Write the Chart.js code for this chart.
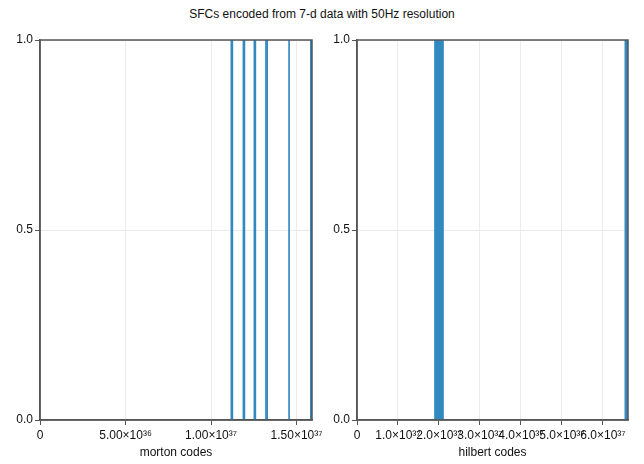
<!DOCTYPE html>
<html><head><meta charset="utf-8">
<script src="https://cdn.jsdelivr.net/npm/chart.js@4/dist/chart.umd.min.js"></script>
<style>
html,body{margin:0;padding:0;background:#fff;width:644px;height:464px;overflow:hidden;}
#title{position:absolute;left:0;top:7px;width:644px;text-align:center;font:12px "Liberation Sans",Arial,sans-serif;color:#111;}
.box{position:absolute;top:0;width:322px;height:464px;}
</style></head><body>
<div id="title">SFCs encoded from 7-d data with 50Hz resolution</div>
<div class="box" style="left:0"><canvas id="c1" width="322" height="464"></canvas></div>
<div class="box" style="left:322px"><canvas id="c2" width="322" height="464"></canvas></div>
<script>
// Data
const mortonWideCodes = [1.1215e37, 1.192e37, 1.256e37, 1.586e37];
const mortonWideCounts = [1, 1, 1, 1];
const mortonThinCodes = [1.321e37, 1.328e37, 1.456e37];
const mortonThinCounts = [1, 1, 1];
const hilbertWideCodes = [2.0e37];
const hilbertWideCounts = [1];
const hilbertNarrowCodes = [6.57e37];
const hilbertNarrowCounts = [1];
const mortonTicks = [0, 5e36, 1e37, 1.5e37];
const mortonTickLabels = ["0", "5.00×10³⁶", "1.00×10³⁷", "1.50×10³⁷"];
const hilbertTicks = [0, 1e37, 2e37, 3e37, 4e37, 5e37, 6e37];
const hilbertTickLabels = ["0", "1.0×10³⁷", "2.0×10³⁷", "3.0×10³⁷", "4.0×10³⁷", "5.0×10³⁷", "6.0×10³⁷"];
const yTicks = [0, 0.5, 1];
const yTickLabels = ["0.0", "0.5", "1.0"];

const BAR = '#3189c0';
const SPINE = '#555555';
const GRID = '#ebebeb';
const FONT = {family: '"Liberation Sans", Arial, sans-serif', size: 12};

const frame = {
  id: 'frame',
  afterDatasetsDraw(chart) {
    const a = chart.chartArea, ctx = chart.ctx;
    ctx.save();
    ctx.strokeStyle = SPINE; ctx.lineWidth = 1.5;
    ctx.strokeRect(a.left, a.top, a.right - a.left, a.bottom - a.top);
    ctx.restore();
  }
};

function pts(xs, ys) { return xs.map((x, i) => ({x: x, y: ys[i]})); }

function makeChart(id, datasets, xmax, ticks, labels, title, yWidth, padRight) {
  return new Chart(document.getElementById(id), {
    type: 'bar',
    data: {datasets: datasets},
    plugins: [frame],
    options: {
      responsive: false, animation: false,
      layout: {padding: {top: 40, right: padRight, left: 0, bottom: 0}},
      plugins: {legend: {display: false}, tooltip: {enabled: false}},
      scales: {
        x: {
          type: 'linear', min: 0, max: xmax, offset: false,
          afterBuildTicks: s => { s.ticks = ticks.map(v => ({value: v})); },
          afterFit: s => { s.height = 44; s.paddingLeft = 0; s.paddingRight = 0; },
          ticks: {callback: (v, i) => labels[i], font: FONT, color: '#111', padding: 3, maxRotation: 0, autoSkip: false},
          grid: {color: GRID, tickColor: SPINE, tickLength: 5, lineWidth: 1, offset: false},
          border: {color: SPINE, width: 1.5},
          title: {display: true, text: title, font: FONT, color: '#111', padding: {top: 0, bottom: 4}}
        },
        y: {
          min: 0, max: 1,
          afterBuildTicks: s => { s.ticks = yTicks.map(v => ({value: v})); },
          afterFit: s => { s.width = yWidth; s.paddingTop = 0; s.paddingBottom = 0; },
          ticks: {callback: (v, i) => yTickLabels[i], font: FONT, color: '#111', padding: 2},
          grid: {color: GRID, tickColor: SPINE, tickLength: 5, lineWidth: 1, offset: false},
          border: {color: SPINE, width: 1.5}
        }
      }
    }
  });
}

makeChart('c1', [
  {data: pts(mortonWideCodes, mortonWideCounts), backgroundColor: BAR, barThickness: 2, grouped: false},
  {data: pts(mortonThinCodes, mortonThinCounts), backgroundColor: BAR, barThickness: 1, grouped: false}
], 1.590e37, mortonTicks, mortonTickLabels, 'morton codes', 40, 10);

makeChart('c2', [
  {data: pts(hilbertWideCodes, hilbertWideCounts), backgroundColor: BAR, barThickness: 9, grouped: false},
  {data: pts(hilbertNarrowCodes, hilbertNarrowCounts), backgroundColor: BAR, barThickness: 3, grouped: false}
], 6.61e37, hilbertTicks, hilbertTickLabels, 'hilbert codes', 35, 16);
</script>
</body></html>
